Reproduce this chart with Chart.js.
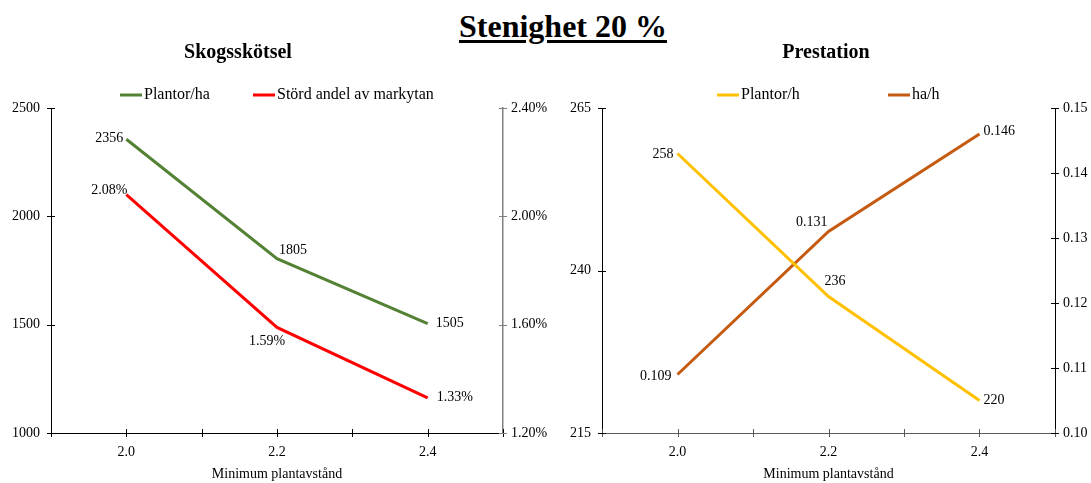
<!DOCTYPE html>
<html>
<head>
<meta charset="utf-8">
<script src="https://cdn.jsdelivr.net/npm/chart.js@4/dist/chart.umd.min.js"></script>
<style>
  html, body { margin: 0; padding: 0; background: #fff; overflow: hidden; }
  body { width: 1091px; height: 483px; position: relative; font-family: "Liberation Serif", "Times New Roman", serif; }
  #mainTitle { position: absolute; left: 363px; width: 400px; top: 8px; text-align: center;
    font-weight: bold; font-size: 32px; line-height: 36px; text-decoration: underline; text-decoration-thickness: 3px;
    text-underline-offset: 3px; color: #000; }
  .box { position: absolute; top: 0; height: 483px; }
  #boxA { left: 0; width: 555px; }
  #boxB { left: 555px; width: 536px; }
</style>
</head>
<body>
<div id="mainTitle">Stenighet 20 %</div>
<div class="box" id="boxA"><canvas id="chartA"></canvas></div>
<div class="box" id="boxB"><canvas id="chartB"></canvas></div>
<script>
// Minimum plantavstånd (m)
const spacing = [2.0, 2.2, 2.4];

// Skogsskötsel
const plantorPerHa = [2356, 1805, 1505];
const stordAndelPct = [2.08, 1.59, 1.33];

// Prestation
const plantorPerTimme = [258, 236, 220];
const haPerTimme = [0.109, 0.131, 0.146];

const FONT = '"Liberation Serif", "Times New Roman", serif';

// Value label placement per point: [textAlign, dx, dy]
const placeA = [
  [['right', -3, -1], ['left', 2, -8], ['left', 8, 0]],
  [['right', 1, -4], ['left', -28, 14], ['left', 9, 0]]
];
const placeB = [
  [['right', -4, 1], ['left', -4, -15], ['left', 4, 0]],
  [['right', -6, 2], ['right', -1, -9], ['left', 4, -3]]
];

const pts = (ys) => spacing.map((x, i) => ({ x: x, y: ys[i] }));

// Ticks that cross the axis line on both sides
const crossTicks = {
  id: 'crossTicks',
  afterDraw(chart) {
    const ctx = chart.ctx;
    const len = 4;
    ctx.save();
    Object.values(chart.scales).forEach(s => {
      ctx.strokeStyle = s.options.border.color;
      ctx.lineWidth = 1;
      ctx.beginPath();
      s.ticks.forEach((t, i) => {
        const p = Math.round(s.getPixelForTick(i)) + 0.5;
        if (s.isHorizontal()) {
          const y = s.top;
          ctx.moveTo(p, y - len); ctx.lineTo(p, y + len);
        } else {
          const x = s.position === 'left' ? s.right : s.left;
          ctx.moveTo(x - len, p); ctx.lineTo(x + len, p);
        }
      });
      ctx.stroke();
    });
    ctx.restore();
  }
};

// Value labels next to each point
const valueLabels = {
  id: 'valueLabels',
  afterDatasetsDraw(chart, args, opts) {
    const ctx = chart.ctx;
    ctx.save();
    ctx.font = '14px ' + FONT;
    ctx.fillStyle = '#000';
    ctx.textBaseline = 'middle';
    chart.data.datasets.forEach((ds, di) => {
      const meta = chart.getDatasetMeta(di);
      meta.data.forEach((el, i) => {
        const [align, dx, dy] = opts.place[di][i];
        ctx.textAlign = align;
        ctx.fillText(opts.format[di](ds.data[i].y), el.x + dx, el.y + dy);
      });
    });
    ctx.restore();
  }
};

// Subtitle and line legend
const heading = {
  id: 'heading',
  afterDraw(chart, args, opts) {
    const ctx = chart.ctx;
    ctx.save();
    ctx.fillStyle = '#000';
    ctx.textBaseline = 'middle';
    ctx.textAlign = 'center';
    ctx.font = 'bold 20px ' + FONT;
    ctx.fillText(opts.text, opts.textX, 53);
    ctx.font = '16px ' + FONT;
    ctx.textAlign = 'left';
    chart.data.datasets.forEach((ds, di) => {
      const x = opts.legendX[di];
      ctx.strokeStyle = ds.borderColor;
      ctx.lineWidth = 3;
      ctx.beginPath();
      ctx.moveTo(x, 95); ctx.lineTo(x + 22, 95);
      ctx.stroke();
      ctx.fillText(ds.label, x + 24, 95);
    });
    ctx.restore();
  }
};

function fixedWidth(w) { return s => { s.width = w; }; }

function xAxis(color) {
  return {
    type: 'linear', min: 1.9, max: 2.5,
    grid: { display: false, drawTicks: false },
    border: { display: true, color: color, width: 1 },
    ticks: {
      stepSize: 0.1, padding: 11, color: '#000', font: { family: FONT, size: 14 },
      autoSkip: false, maxRotation: 0,
      callback: v => (Math.round(v * 10) % 2 === 0 ? Number(v).toFixed(1) : '')
    },
    title: { display: true, text: 'Minimum plantavstånd', color: '#000',
      font: { family: FONT, size: 14 }, padding: { top: 4, bottom: 0 } },
    afterFit: s => { s.height = 50; }
  };
}

function yAxis(pos, min, max, step, fmt, color, width, pad) {
  return {
    type: 'linear', position: pos, min: min, max: max,
    grid: { display: false, drawTicks: false },
    border: { display: true, color: color, width: pos === 'right' && color !== '#000' ? 1.5 : 1 },
    ticks: { stepSize: step, padding: pad, color: '#000', font: { family: FONT, size: 14 },
      callback: fmt },
    afterFit: fixedWidth(width)
  };
}

function lineDs(label, ys, color, axis) {
  return {
    label: label, data: pts(ys), yAxisID: axis,
    borderColor: color, backgroundColor: color, borderWidth: 3,
    pointRadius: 0, tension: 0, borderCapStyle: 'butt'
  };
}

const common = {
  responsive: true, maintainAspectRatio: false, animation: false,
  layout: { padding: { top: 108, bottom: 0, left: 0, right: 0 } },
  plugins: { legend: { display: false }, tooltip: { enabled: false }, title: { display: false } }
};

new Chart(document.getElementById('chartA'), {
  type: 'line',
  data: { datasets: [
    lineDs('Plantor/ha', plantorPerHa, '#548235', 'y'),
    lineDs('Störd andel av markytan', stordAndelPct, '#FF0000', 'y1')
  ] },
  options: Object.assign({}, common, {
    scales: {
      x: xAxis('#000'),
      y: yAxis('left', 1000, 2500, 500, v => String(v), '#000', 51, 11),
      y1: yAxis('right', 1.2, 2.4, 0.4, v => Number(v).toFixed(2) + '%', '#808080', 52, 8)
    },
    plugins: Object.assign({}, common.plugins, {
      valueLabels: { place: placeA, format: [v => String(v), v => v.toFixed(2) + '%'] },
      heading: { text: 'Skogsskötsel', textX: 238, legendX: [120, 253] }
    })
  }),
  plugins: [crossTicks, valueLabels, heading]
});

new Chart(document.getElementById('chartB'), {
  type: 'line',
  data: { datasets: [
    lineDs('Plantor/h', plantorPerTimme, '#FFC000', 'y'),
    lineDs('ha/h', haPerTimme, '#C55A11', 'y1')
  ] },
  options: Object.assign({}, common, {
    scales: {
      x: xAxis('#595959'),
      y: yAxis('left', 215, 265, 25, v => String(v), '#000', 47, 11),
      y1: yAxis('right', 0.10, 0.15, 0.01, v => Number(v).toFixed(2), '#000', 36, 8)
    },
    plugins: Object.assign({}, common.plugins, {
      valueLabels: { place: placeB, format: [v => String(v), v => v.toFixed(3)] },
      heading: { text: 'Prestation', textX: 271, legendX: [162, 333] }
    })
  }),
  plugins: [crossTicks, valueLabels, heading]
});
</script>
</body>
</html>
